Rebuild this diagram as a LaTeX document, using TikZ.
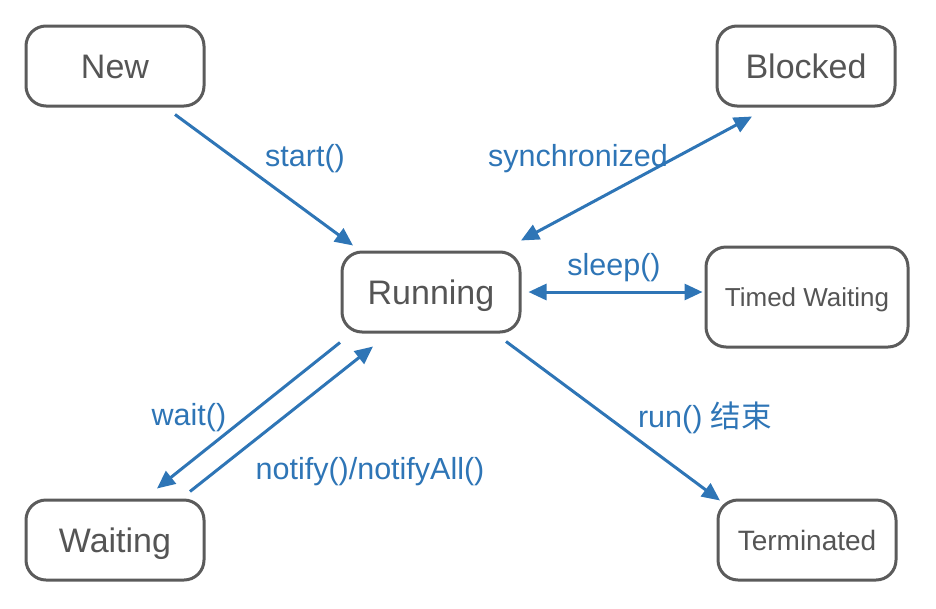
\documentclass[tikz,border=0pt]{standalone}
\usepackage{fontspec}
\setmainfont{Liberation Sans}
\newfontfamily\cjk{Noto Sans CJK SC}
\usetikzlibrary{arrows.meta}
\definecolor{boxgray}{HTML}{5B5B5B}
\definecolor{txtgray}{HTML}{555555}
\definecolor{arrblue}{HTML}{2E75B6}
\tikzset{
  state/.style={draw=boxgray, line width=3pt, rounded corners=20pt, fill=white,
    minimum width=178pt, minimum height=80pt, text=txtgray, font=\fontsize{34}{38}\selectfont, inner sep=0pt,
    text depth=0pt, text height=24pt},
  smallstate/.style={state, font=\fontsize{26}{30}\selectfont, text height=19pt},
  conn/.style={draw=arrblue, line width=3pt, -{Triangle[length=18pt,width=16pt]}},
  biconn/.style={draw=arrblue, line width=3pt, {Triangle[length=18pt,width=16pt]}-{Triangle[length=18pt,width=16pt]}},
  lbl/.style={text=arrblue, font=\fontsize{30.5}{34}\selectfont, inner sep=0pt},
}
\begin{document}
\begin{tikzpicture}[x=1pt,y=-1pt]
\useasboundingbox (0,0) rectangle (936,608);
\node[state] (new) at (115,66) {New};
\node[state] (blk) at (806,66) {Blocked};
\node[state] (run) at (431,292) {Running};
\node[smallstate, minimum width=202pt, minimum height=100pt] (tw) at (807,297) {Timed Waiting};
\node[state] (wait) at (115,540) {Waiting};
\node[smallstate, font=\fontsize{28}{32}\selectfont, text height=20pt] (term) at (807,540) {Terminated};

\draw[conn] ([shift={(60,7)}]new.south) -- ([shift={(-78,-5)}]run.north);
\draw[biconn] ([shift={(-54,9)}]blk.south) -- ([shift={(90,-10)}]run.north);
\draw[biconn] ([shift={(7,0)}]run.east) -- ([shift={(-2,-5)}]tw.west);
\draw[conn] ([shift={(75,8)}]run.south) -- ([shift={(-87,2)}]term.north);
\draw[conn] ([shift={(-91,9)}]run.south) -- ([shift={(42,-10)}]wait.north);
\draw[conn] ([shift={(75,-7)}]wait.north) -- ([shift={(-58,13)}]run.south);

\node[lbl] (l1) at (305,159) {start()};
\node[lbl] (l2) at (578,159) {synchronized};
\node[lbl] (l3) at (614,268) {sleep()};
\node[lbl] (l4) at (189,418) {wait()};
\node[lbl] (l5) at (370,472) {notify()/notifyAll()};
\node[lbl] (l6) at (705,418) {run() {\cjk 结束}};
\end{tikzpicture}
\end{document}
